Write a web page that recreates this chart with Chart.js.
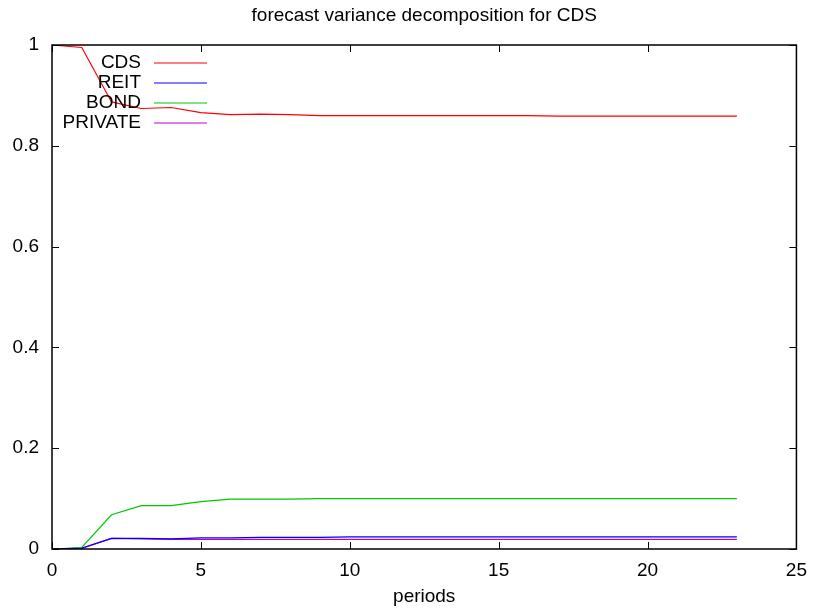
<!DOCTYPE html>
<html>
<head>
<meta charset="utf-8">
<title>forecast variance decomposition for CDS</title>
<script src="https://cdn.jsdelivr.net/npm/chart.js@4/dist/chart.umd.min.js"></script>
<style>
  html, body { margin: 0; padding: 0; background: #fff; }
  #wrap { width: 817px; height: 613px; }
</style>
</head>
<body>
<div id="wrap"><canvas id="myChart" width="817" height="613"></canvas></div>
<script>
// forecast horizon (periods)
const periods = [0, 1, 2, 3, 4, 5, 6, 7, 8, 9, 10, 11, 12, 13, 14, 15, 16, 17, 18, 19, 20, 21, 22, 23];

// share of CDS forecast error variance explained by each shock
const cdsShare = [1.0, 0.995, 0.887, 0.874, 0.876, 0.866, 0.862, 0.863, 0.862, 0.860, 0.860, 0.860, 0.860, 0.860, 0.860, 0.860, 0.860, 0.859, 0.859, 0.859, 0.859, 0.859, 0.859, 0.859];
const reitShare = [0.0, 0.002, 0.021, 0.021, 0.020, 0.022, 0.022, 0.023, 0.023, 0.023, 0.024, 0.024, 0.024, 0.024, 0.024, 0.024, 0.024, 0.024, 0.024, 0.024, 0.024, 0.024, 0.024, 0.024];
const bondShare = [0.0, 0.003, 0.068, 0.086, 0.086, 0.094, 0.099, 0.099, 0.099, 0.100, 0.100, 0.100, 0.100, 0.100, 0.100, 0.100, 0.100, 0.100, 0.100, 0.100, 0.100, 0.100, 0.100, 0.100];
const privateShare = [0.0, 0.001, 0.021, 0.020, 0.019, 0.019, 0.019, 0.019, 0.019, 0.019, 0.019, 0.019, 0.019, 0.019, 0.019, 0.019, 0.019, 0.019, 0.019, 0.019, 0.019, 0.019, 0.019, 0.019];

const seriesNames = ["CDS", "REIT", "BOND", "PRIVATE"];
const seriesColors = ["#ff0000", "#0000ff", "#00c800", "#c000c0"];
const seriesValues = [cdsShare, reitShare, bondShare, privateShare];

// tick positions
const xTicks = [0, 5, 10, 15, 20, 25];
const yTicks = [0, 0.2, 0.4, 0.6, 0.8, 1];

const chartTitle = "forecast variance decomposition for CDS";

const FONT = "'Liberation Sans', Arial, sans-serif";
const FONT_SIZE = 19;

// frame + inward ticks on all four sides, gnuplot style
const framePlugin = {
  id: "frame",
  afterDatasetsDraw(chart) {
    const ctx = chart.ctx;
    const a = chart.chartArea;
    const xs = chart.scales.x;
    const ys = chart.scales.y;
    ctx.save();
    ctx.strokeStyle = "#000";
    ctx.lineWidth = 1;
    ctx.beginPath();
    xTicks.forEach(v => {
      const px = Math.round(xs.getPixelForValue(v)) + 0.5;
      ctx.moveTo(px, a.bottom); ctx.lineTo(px, a.bottom - 7);
      ctx.moveTo(px, a.top); ctx.lineTo(px, a.top + 7);
    });
    yTicks.forEach(v => {
      const py = Math.round(ys.getPixelForValue(v)) + 0.5;
      ctx.moveTo(a.left, py); ctx.lineTo(a.left + 7, py);
      ctx.moveTo(a.right, py); ctx.lineTo(a.right - 7, py);
    });
    ctx.stroke();
    ctx.lineWidth = 1.5;
    ctx.strokeRect(a.left, a.top, a.right - a.left, a.bottom - a.top);
    ctx.restore();
  }
};

// title centred over the plot area, and the key in the top-left corner
// (label text on the left, line sample on the right)
const keyPlugin = {
  id: "key",
  afterDraw(chart) {
    const ctx = chart.ctx;
    const a = chart.chartArea;
    ctx.save();
    ctx.font = FONT_SIZE + "px " + FONT;
    ctx.fillStyle = "#000";
    ctx.textAlign = "center";
    ctx.textBaseline = "middle";
    ctx.fillText(chartTitle, (a.left + a.right) / 2, 16);

    ctx.textAlign = "right";
    chart.data.datasets.forEach((ds, i) => {
      const y = a.top + 18 + i * 20;
      ctx.fillStyle = "#000";
      ctx.fillText(ds.label, a.left + 89, y);
      ctx.strokeStyle = ds.borderColor;
      ctx.lineWidth = 1.2;
      ctx.beginPath();
      ctx.moveTo(a.left + 102, y);
      ctx.lineTo(a.left + 155, y);
      ctx.stroke();
    });
    ctx.restore();
  }
};

const ctx = document.getElementById("myChart").getContext("2d");
new Chart(ctx, {
  type: "line",
  data: {
    labels: periods,
    datasets: seriesNames.map((name, i) => ({
      label: name,
      data: periods.map((p, j) => ({ x: p, y: seriesValues[i][j] })),
      borderColor: seriesColors[i],
      backgroundColor: seriesColors[i],
      borderWidth: 1.2,
      pointRadius: 0,
      tension: 0,
      fill: false
    }))
  },
  options: {
    responsive: false,
    animation: false,
    layout: { padding: { left: 0, right: 16, top: 45, bottom: 0 } },
    plugins: {
      legend: { display: false },
      tooltip: { enabled: false },
      title: { display: false }
    },
    scales: {
      x: {
        type: "linear",
        min: 0,
        max: 25,
        afterBuildTicks(scale) { scale.ticks = xTicks.map(v => ({ value: v })); },
        afterFit(scale) { scale.height = 64; },
        grid: { display: false, drawTicks: false },
        border: { display: false },
        ticks: {
          color: "#000",
          padding: 10,
          maxRotation: 0,
          font: { family: FONT, size: FONT_SIZE }
        },
        title: {
          display: true,
          text: "periods",
          color: "#000",
          font: { family: FONT, size: FONT_SIZE },
          padding: { top: 3, bottom: 5 }
        }
      },
      y: {
        min: 0,
        max: 1,
        afterBuildTicks(scale) { scale.ticks = yTicks.map(v => ({ value: v })); },
        afterFit(scale) { scale.width = 52; },
        grid: { display: false, drawTicks: false },
        border: { display: false },
        ticks: {
          color: "#000",
          padding: 13,
          font: { family: FONT, size: FONT_SIZE },
          callback: v => String(Math.round(v * 10) / 10)
        }
      }
    }
  },
  plugins: [framePlugin, keyPlugin]
});
</script>
</body>
</html>
